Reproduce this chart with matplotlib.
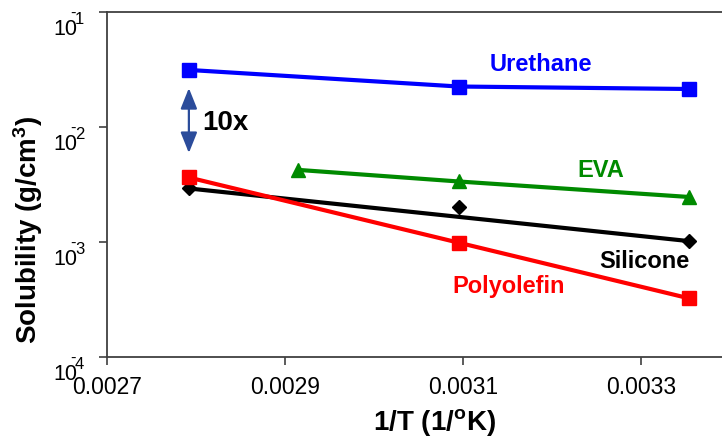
import numpy as np
import matplotlib
matplotlib.use("Agg")
import matplotlib.pyplot as plt
from matplotlib.transforms import blended_transform_factory, ScaledTranslation

# 1/T values (1/K) for 85, 70, 50 and 25 C
x_three = [0.002792, 0.003095, 0.003354]
x_eva = [0.002915, 0.003095, 0.003354]

urethane = [0.0315, 0.0226, 0.0215]
eva = [0.00425, 0.00337, 0.00247]
silicone = [0.00293, 0.00204, 0.00102]
polyolefin = [0.00365, 0.000989, 0.000324]

x_ticks = [0.0027, 0.0029, 0.0031, 0.0033]
x_tick_labels = ["0.0027", "0.0029", "0.0031", "0.0033"]
y_ticks = [1e-4, 1e-3, 1e-2, 1e-1]
y_exps = ["4", "3", "2", "1"]

plt.rcParams["font.family"] = ["Liberation Sans", "DejaVu Sans"]
plt.rcParams["mathtext.fontset"] = "custom"
plt.rcParams["mathtext.rm"] = "Liberation Sans"
plt.rcParams["mathtext.bf"] = "Liberation Sans:bold"

W, H = 722, 438
fig = plt.figure(figsize=(W / 100, H / 100), dpi=100)
# right edge of the plot area falls just outside the picture
ax = fig.add_axes([107 / W, (H - 357) / H, (730 - 107) / W, (357 - 12.3) / H])

ms = 9.5
lw = 3.0
ax.plot(x_three, urethane, color="#0000FF", lw=lw, marker="s", ms=ms)
ax.plot(x_eva, eva, color="#008A00", lw=lw, marker="^", ms=ms + 0.5)
# silicone: straight line between the end points, all points marked
ax.plot([x_three[0], x_three[-1]], [silicone[0], silicone[-1]], color="black", lw=lw)
ax.plot(x_three, silicone, color="black", lw=0, marker="D", ms=ms - 2)
ax.plot(x_three, polyolefin, color="#FF0000", lw=lw, marker="s", ms=ms)

ax.set_yscale("log")
ax.set_xlim(0.0027, 0.0034)
ax.set_ylim(1e-4, 1e-1)
ax.set_xticks(x_ticks, labels=x_tick_labels)
ax.set_yticks(y_ticks, labels=[""] * len(y_ticks))
ax.yaxis.set_minor_locator(matplotlib.ticker.NullLocator())

spine_col = "#404040"
for s in ["left", "bottom", "top"]:
    ax.spines[s].set_color(spine_col)
    ax.spines[s].set_linewidth(1.3)
ax.spines["right"].set_visible(False)
ax.tick_params(axis="both", direction="out", length=6, width=1.2, color=spine_col,
               labelsize=16.5, labelcolor="black")
ax.tick_params(axis="x", pad=8)

# y tick labels: "10", a small raised minus over the right of the 0, then the digit
trans = blended_transform_factory(ax.transAxes, ax.transData)
def shifted(dx, dy):
    return trans + ScaledTranslation(dx / 100, dy / 100, fig.dpi_scale_trans)

for yv, e in zip(y_ticks, y_exps):
    ax.text(0, yv, "10", fontsize=15.5, ha="right", va="top", transform=shifted(-30, -6.5))
    ax.text(0, yv, "-", fontsize=12, ha="right", va="baseline", transform=shifted(-31.5, -6))
    ax.text(0, yv, e, fontsize=12, ha="left", va="top", transform=shifted(-32, 0.5))

# axis titles
fig.text(434 / W, 1 - 422 / H, r"1/T (1/$\mathbf{^{o}}$K)", fontsize=20, fontweight="bold",
         ha="center", va="center")
fig.text(28 / W, 1 - 230 / H, r"Solubility (g/cm$\mathbf{^{3}}$)", fontsize=20,
         fontweight="bold", ha="center", va="center", rotation=90)

# series labels
ax.text(0.6966, 0.8297, "Urethane", color="#0000FF", fontsize=17, fontweight="bold",
        ha="center", va="baseline", transform=ax.transAxes)
ax.text(0.793, 0.522, "EVA", color="#008A00", fontsize=17, fontweight="bold",
        ha="center", va="baseline", transform=ax.transAxes)
ax.text(0.862, 0.258, "Silicone", color="black", fontsize=17, fontweight="bold",
        ha="center", va="baseline", transform=ax.transAxes)
ax.text(0.645, 0.1857, "Polyolefin", color="#FF0000", fontsize=17, fontweight="bold",
        ha="center", va="baseline", transform=ax.transAxes)

# 10x arrow between urethane and polyolefin at the first temperature
ax.annotate("", xy=(x_three[0], 0.0219), xytext=(x_three[0], 0.00596),
            arrowprops=dict(arrowstyle="<|-|>,head_length=0.7,head_width=0.28",
                            color="#2B4C9B", lw=1.6, mutation_scale=18,
                            shrinkA=0, shrinkB=0))
ax.text(0.1525, 0.6585, "10x", color="black", fontsize=20, fontweight="bold",
        ha="left", va="baseline", transform=ax.transAxes)

fig.savefig("out.png", dpi=100)
